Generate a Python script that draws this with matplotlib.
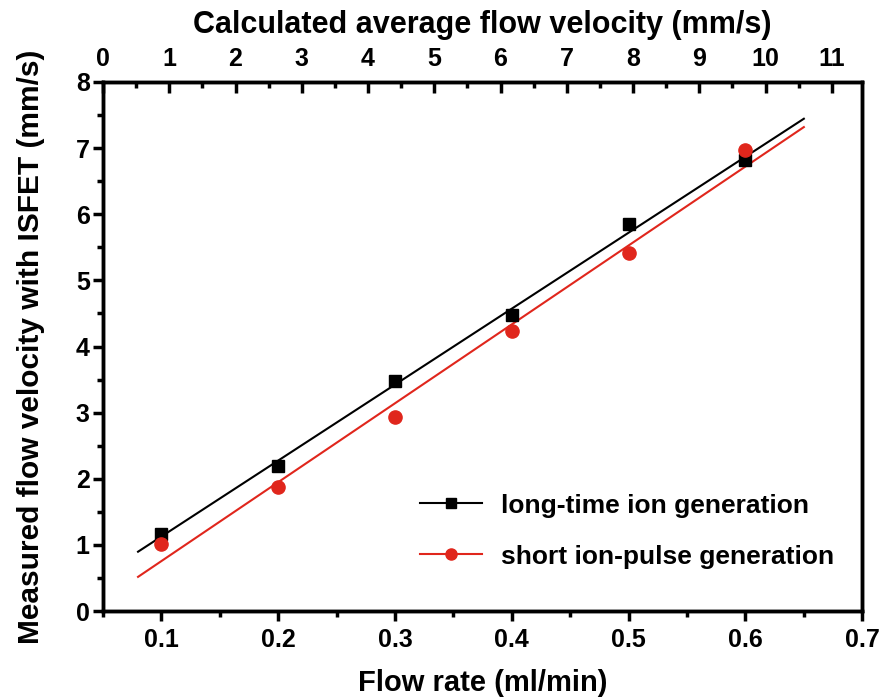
import numpy as np
import matplotlib.pyplot as plt
from matplotlib.lines import Line2D
from matplotlib.ticker import MultipleLocator

plt.rcParams['font.family'] = ['Liberation Sans', 'DejaVu Sans']
plt.rcParams['font.weight'] = 'bold'

# flow rate (ml/min)
flow_rate = [0.1, 0.2, 0.3, 0.4, 0.5, 0.6]
# measured velocity (mm/s)
long_time = [1.17, 2.20, 3.48, 4.47, 5.85, 6.82]
short_pulse = [1.01, 1.87, 2.93, 4.23, 5.42, 6.97]
fit_range = [0.08, 0.65]

series_labels = ['long-time ion generation', 'short ion-pulse generation']
red = '#e0261c'

fig = plt.figure(figsize=(8.88, 7.0), dpi=100)
ax = fig.add_axes([0.116, 0.127, 0.855, 0.756])

xf = np.array(fit_range)
for yv, col, mk, ms in [(long_time, 'black', 's', 8.5), (short_pulse, red, 'o', 9.5)]:
    k, b = np.polyfit(flow_rate, yv, 1)
    ax.plot(xf, k * xf + b, color=col, lw=1.5, zorder=2)
    ax.plot(flow_rate, yv, ls='none', marker=mk, ms=ms, color=col, zorder=3)

ax.set_xlim(0.05, 0.7)
ax.set_ylim(0, 8)
ax.xaxis.set_major_locator(MultipleLocator(0.1))
ax.xaxis.set_minor_locator(MultipleLocator(0.05))
ax.yaxis.set_major_locator(MultipleLocator(1))
ax.yaxis.set_minor_locator(MultipleLocator(0.5))
ax.tick_params(which='both', direction='out', width=2.5, labelsize=18, right=False, top=False)
ax.tick_params(which='major', length=7.5)
ax.tick_params(which='minor', length=4.5)
ax.tick_params(axis='x', pad=5)
ax.tick_params(axis='y', pad=2)
for s in ax.spines.values():
    s.set_linewidth(2.5)

ax.set_xlabel('Flow rate (ml/min)', fontsize=21, fontweight='bold', labelpad=12)
ax.set_ylabel('Measured flow velocity with ISFET (mm/s)', fontsize=21.5, fontweight='bold', labelpad=22)

# top axis: calculated average flow velocity
top = ax.twiny()
top.set_xlim(0, 11.46)
top.xaxis.set_major_locator(MultipleLocator(1))
top.xaxis.set_minor_locator(MultipleLocator(0.5))
top.tick_params(which='both', direction='in', width=2.5, labelsize=18, pad=8)
top.tick_params(which='major', length=8)
top.tick_params(which='minor', length=4)
top.set_xlabel('Calculated average flow velocity (mm/s)', fontsize=22, fontweight='bold', labelpad=10)
for s in top.spines.values():
    s.set_linewidth(2.5)

handles = [Line2D([], [], color='black', marker='s', ms=7, lw=1.5),
           Line2D([], [], color=red, marker='o', ms=8, lw=1.5)]
ax.legend(handles, series_labels, loc='center left', bbox_to_anchor=(0.418, 0.151),
          frameon=False, fontsize=19, handlelength=2.35, labelspacing=1.02,
          handletextpad=0.7, borderpad=0, borderaxespad=0)

fig.savefig('out.png', dpi=100)
